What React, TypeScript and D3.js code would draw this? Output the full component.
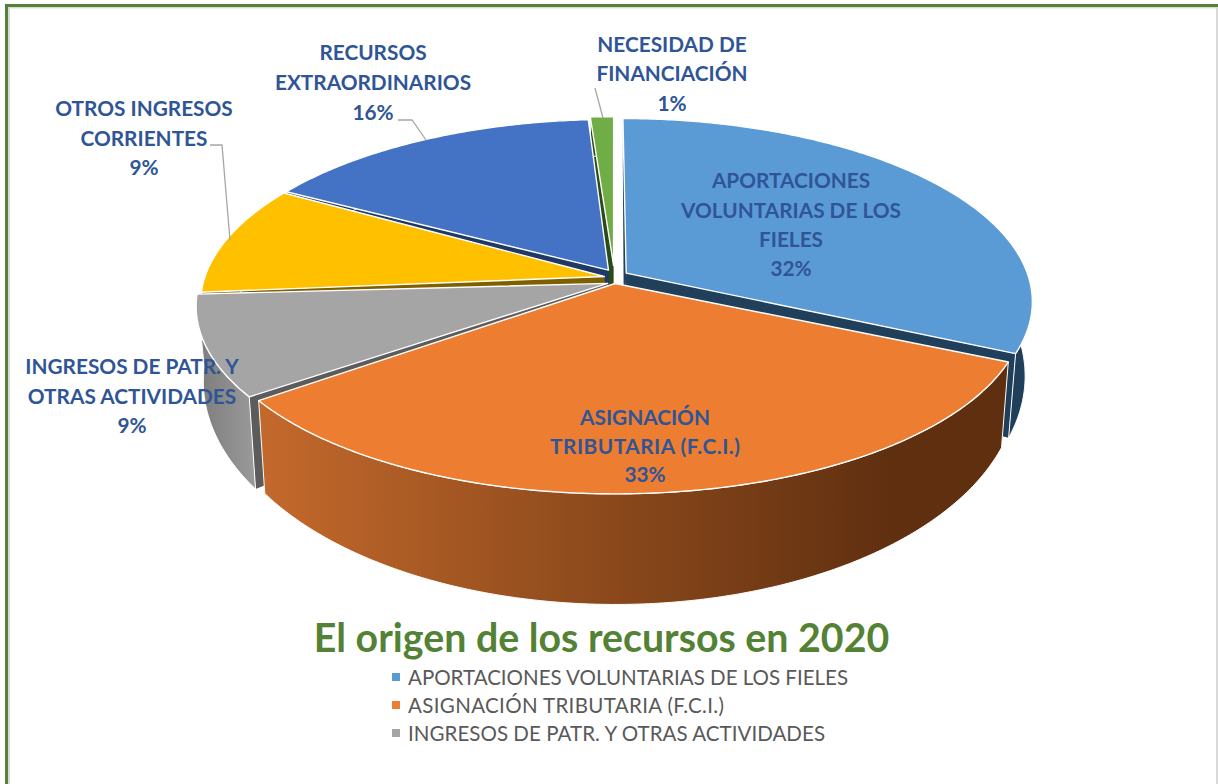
import React from "react";
import * as d3 from "d3";

const categories = ["APORTACIONES VOLUNTARIAS DE LOS FIELES", "ASIGNACIÓN TRIBUTARIA (F.C.I.)", "INGRESOS DE PATR. Y OTRAS ACTIVIDADES", "OTROS INGRESOS CORRIENTES", "RECURSOS EXTRAORDINARIOS", "NECESIDAD DE FINANCIACIÓN"];
const values = [31.7, 33.2, 8.9, 9.7, 15.45, 1.05];
const topColors = ["#5b9bd5", "#ed7d31", "#a5a5a5", "#ffc000", "#4472c4", "#70ad47"];
const sideColors = ["#203f5a", "url(#wallOrange)", "url(#wallGrey)", "#7f6000", "#1f3864", "#2a4a18"];
const faceColors = ["#203f5a", "#5f2f10", "#5c5c5c", "#7f6000", "#1f3864", "#2a4a18"];
const explode = [0.03, 0.025, 0.022, 0.012, 0.012, 0.03];
const apexNudge = [[2, -3], [0, 0], [2, 3], [-5, -2], [-3, -7], [0, -8]];
const paintOrder = [5, 4, 3, 2, 0, 1];
const legendItems = [0, 1, 2];
const legendWidths = [440, 316, 417];
const title = "El origen de los recursos en 2020";

const labelLines = [
  ["APORTACIONES", "VOLUNTARIAS DE LOS", "FIELES", "32%"],
  ["ASIGNACIÓN", "TRIBUTARIA (F.C.I.)", "33%"],
  ["INGRESOS DE PATR. Y", "OTRAS ACTIVIDADES", "9%"],
  ["OTROS INGRESOS", "CORRIENTES", "9%"],
  ["RECURSOS", "EXTRAORDINARIOS", "16%"],
  ["NECESIDAD DE", "FINANCIACIÓN", "1%"],
];
const labelPos: [number, number[]][] = [
  [791, [179, 209, 238, 267]],
  [645, [416, 445, 473]],
  [132, [365, 395, 424]],
  [144, [107, 137, 166]],
  [373, [51, 81, 111]],
  [672, [43, 72, 102]],
];
const wideLines: Record<string, number> = { "TRIBUTARIA (F.C.I.)": 190 };
const leaders = [
  [[398, 120], [412, 120], [426, 140]],
  [[210, 145], [222, 145], [230, 240]],
  [[595, 88], [603, 118]],
];

const CX = 614, K = 0.138;
const topPlane = { y0: 279, r: 405, t: 180 };
const botPlane = { y0: 349, r: 398, t: 214 };
type Plane = typeof topPlane;

function proj(p: Plane, X: number, Y: number): [number, number] {
  const s = 1 / (1 - K * Y);
  return [CX + p.r * X * s, p.y0 + p.t * Y * s];
}

const pieGen = d3.pie<number>().sort(null).startAngle(0).endAngle(2 * Math.PI);
const lineGen = d3.line();

export default function App() {
  const arcs = pieGen(values);
  const shapes = arcs.map((a, i) => {
    const mid = (a.startAngle + a.endAngle) / 2;
    const dX = explode[i] * Math.sin(mid);
    const dY = -explode[i] * Math.cos(mid);
    const n = Math.max(3, Math.ceil((a.endAngle - a.startAngle) / 0.01));
    const angles = d3.range(n + 1).map((k) => a.startAngle + ((a.endAngle - a.startAngle) * k) / n);
    const rim = (p: Plane) => angles.map((t) => proj(p, Math.sin(t) + dX, -Math.cos(t) + dY));
    const base = proj(topPlane, dX, dY);
    const apexT: [number, number] = [base[0] + apexNudge[i][0], base[1] + apexNudge[i][1]];
    const apexB = proj(botPlane, dX, dY);
    const rt = rim(topPlane);
    const rb = rim(botPlane);
    const closed = (pts: [number, number][]) => lineGen(pts) + "Z";
    return {
      i,
      top: closed([apexT, ...rt]),
      wall: closed([...rt, ...[...rb].reverse()]),
      faceA: closed([apexT, rt[0], rb[0], apexB]),
      faceB: closed([apexT, rt[n], rb[n], apexB]),
    };
  });

  return (
    <svg width={1218} height={784} style={{ position: "absolute", left: 0, top: 0, display: "block", background: "#fff" }}>
      <defs>
        <linearGradient id="wallOrange" gradientUnits="userSpaceOnUse" x1={258} x2={1010} y1={0} y2={0}>
          <stop offset="0" stopColor="#c4692c" />
          <stop offset="0.45" stopColor="#8d4a1c" />
          <stop offset="0.85" stopColor="#5f2f10" />
          <stop offset="1" stopColor="#5f2f10" />
        </linearGradient>
        <linearGradient id="wallGrey" gradientUnits="userSpaceOnUse" x1={200} x2={255} y1={0} y2={0}>
          <stop offset="0" stopColor="#7d7d7d" />
          <stop offset="1" stopColor="#9a9a9a" />
        </linearGradient>
      </defs>
      <rect x={5} y={4} width={1213} height={3} fill="#548235" />
      <rect x={8} y={7} width={1210} height={1.5} fill="#d9d9d9" />
      <rect x={5} y={4} width={3} height={780} fill="#548235" />
      <rect x={8} y={7} width={2} height={777} fill="#d9d9d9" />
      <rect x={1216} y={8} width={2} height={776} fill="#d9d9d9" />

      {paintOrder.map((idx) => {
        const s = shapes[idx];
        return (
          <g key={idx} strokeLinejoin="round">
            <path d={s.faceA} fill={faceColors[idx]} />
            <path d={s.faceB} fill={faceColors[idx]} />
            <path d={s.wall} fill={sideColors[idx]} stroke="#fff" strokeWidth={1} />
            <path d={s.top} fill={topColors[idx]} stroke="#fff" strokeWidth={1.4} />
          </g>
        );
      })}

      {leaders.map((pts, i) => (
        <path key={i} d={lineGen(pts as [number, number][]) as string} fill="none" stroke="#a6a6a6" strokeWidth={1.3} />
      ))}

      <g fontFamily="Lato, sans-serif" fontWeight={700} fontSize={20.8} fill="#2f5597" textAnchor="middle">
        {labelLines.map((lines, i) =>
          lines.map((t, j) => (
            <text
              key={`${i}-${j}`}
              x={labelPos[i][0]}
              y={labelPos[i][1][j]}
              dominantBaseline="central"
              {...(wideLines[t] ? { textLength: wideLines[t], lengthAdjust: "spacing" } : {})}
            >
              {t}
            </text>
          ))
        )}
      </g>

      <text x={601.5} y={636} textAnchor="middle" dominantBaseline="central" fontFamily="Lato, sans-serif" fontWeight={700} fontSize={39.3} fill="#548235">
        {title}
      </text>

      {legendItems.map((idx, i) => {
        const y = [677, 705, 733][i];
        return (
          <g key={idx}>
            <rect x={392} y={y - 4} width={8} height={8} fill={topColors[idx]} />
            <text x={408} y={y} dominantBaseline="central" fontFamily="Lato, sans-serif" fontSize={20.5} fill="#595959" textLength={legendWidths[i]} lengthAdjust="spacing">
              {categories[idx]}
            </text>
          </g>
        );
      })}
    </svg>
  );
}
